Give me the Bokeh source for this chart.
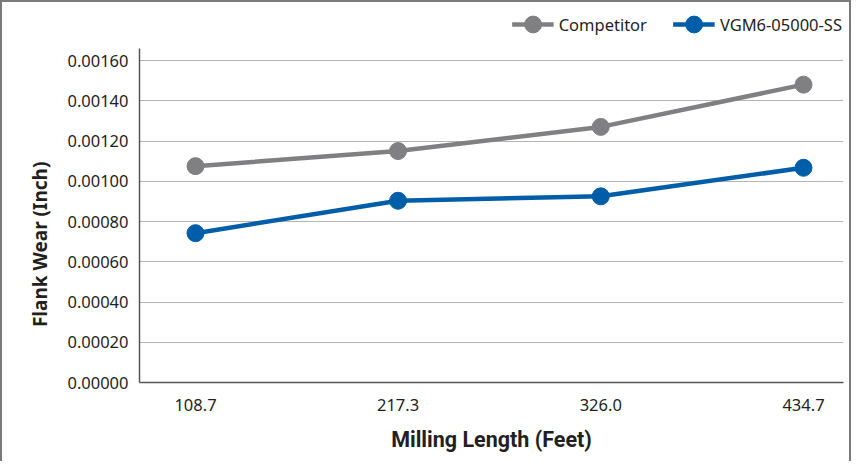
from bokeh.plotting import figure
from bokeh.models import (Range1d, FixedTicker, PrintfTickFormatter, Legend, LegendItem, LinearAxis)
from bokeh.embed import file_html
from bokeh.resources import INLINE

# ---- data ----
milling_length = [108.7, 217.3, 326.0, 434.7]
x_tick_labels = ["108.7", "217.3", "326.0", "434.7"]
competitor = [0.001075, 0.00115, 0.00127, 0.00148]
vgm = [0.000742, 0.000903, 0.000925, 0.001067]
y_ticks = [0.0, 0.0002, 0.0004, 0.0006, 0.0008, 0.0010, 0.0012, 0.0014, 0.0016]
series_names = ["Competitor", "VGM6-05000-SS"]
x_title = "Milling Length (Feet)"
y_title = "Flank Wear (Inch)"

GRAY = "#808083"
BLUE = "#005ea8"
TEXT = "#231f20"
FONT = "Noto Sans"
TITLE_FONT = "Roboto"

Y_AXIS_TOP = 0.0016596   # visible extent of the value axis
Y_VIEW_TOP = 0.0018882   # room above the axis for the legend

p = figure(width=851, height=461, output_backend="svg", toolbar_location=None,
           x_range=Range1d(78.67, 456.15), y_range=Range1d(0, Y_VIEW_TOP),
           min_border_left=137, min_border_right=10, min_border_top=0, min_border_bottom=81)
p.outline_line_color = None
p.background_fill_color = "white"
p.border_fill_color = "white"
p.styles = {"border-left": "2px solid #7a7a7a", "border-top": "2px solid #7a7a7a",
            "border-right": "2px solid #7a7a7a"}

# axes
p.xaxis.ticker = FixedTicker(ticks=milling_length)
p.xaxis.major_label_overrides = {v: s for v, s in zip(milling_length, x_tick_labels)}
p.yaxis.ticker = FixedTicker(ticks=y_ticks)
p.yaxis.formatter = PrintfTickFormatter(format="%.5f")
p.yaxis.bounds = (0, Y_AXIS_TOP)
for ax in (p.xaxis, p.yaxis):
    ax.axis_line_color = "#555555"
    ax.axis_line_width = 1.5
    ax.major_tick_line_color = None
    ax.minor_tick_line_color = None
    ax.major_tick_out = 0
    ax.minor_tick_out = 0
    ax.major_label_text_font = FONT
    ax.major_label_text_font_size = "16.5px"
    ax.major_label_text_color = TEXT
p.yaxis.major_label_standoff = 11
p.xaxis.major_label_standoff = 16

p.xaxis.axis_label = x_title
p.xaxis.axis_label_text_font = TITLE_FONT
p.xaxis.axis_label_text_font_size = "21.5px"
p.xaxis.axis_label_text_font_style = "bold"
p.xaxis.axis_label_text_color = TEXT
p.xaxis.axis_label_standoff = 13

# y title on its own (label-only) axis; trailing no-break spaces move it down like the reference
ytitle_axis = LinearAxis(ticker=FixedTicker(ticks=[]),
                         axis_line_color=None, major_tick_line_color=None,
                         minor_tick_line_color=None, major_tick_out=0, minor_tick_out=0,
                         major_label_standoff=0, major_label_text_font_size="0px",
                         axis_label=y_title + "\u00a0" * 21, axis_label_text_font=FONT,
                         axis_label_text_font_size="19px", axis_label_text_font_style="bold",
                         axis_label_text_color=TEXT, axis_label_standoff=12)
p.add_layout(ytitle_axis, "left")

p.xgrid.grid_line_color = None
p.ygrid.grid_line_color = "#b4b4b4"
p.ygrid.grid_line_width = 1

# series
l1 = p.line(milling_length, competitor, line_color=GRAY, line_width=4.5)
s1 = p.scatter(milling_length, competitor, size=17, fill_color=GRAY, line_color=GRAY)
l2 = p.line(milling_length, vgm, line_color=BLUE, line_width=4.5)
s2 = p.scatter(milling_length, vgm, size=17, fill_color=BLUE, line_color=BLUE)

legend = Legend(items=[LegendItem(label=series_names[0], renderers=[l1, s1]),
                       LegendItem(label=series_names[1], renderers=[l2, s2])],
                orientation="horizontal", location="top_right",
                glyph_width=42, glyph_height=42, label_standoff=5, spacing=26,
                padding=0, margin=1, border_line_color=None,
                background_fill_alpha=0,
                label_text_font=FONT, label_text_font_size="16.5px", label_text_color=TEXT)
p.add_layout(legend)

open("out.html", "w").write(file_html(p, INLINE))
